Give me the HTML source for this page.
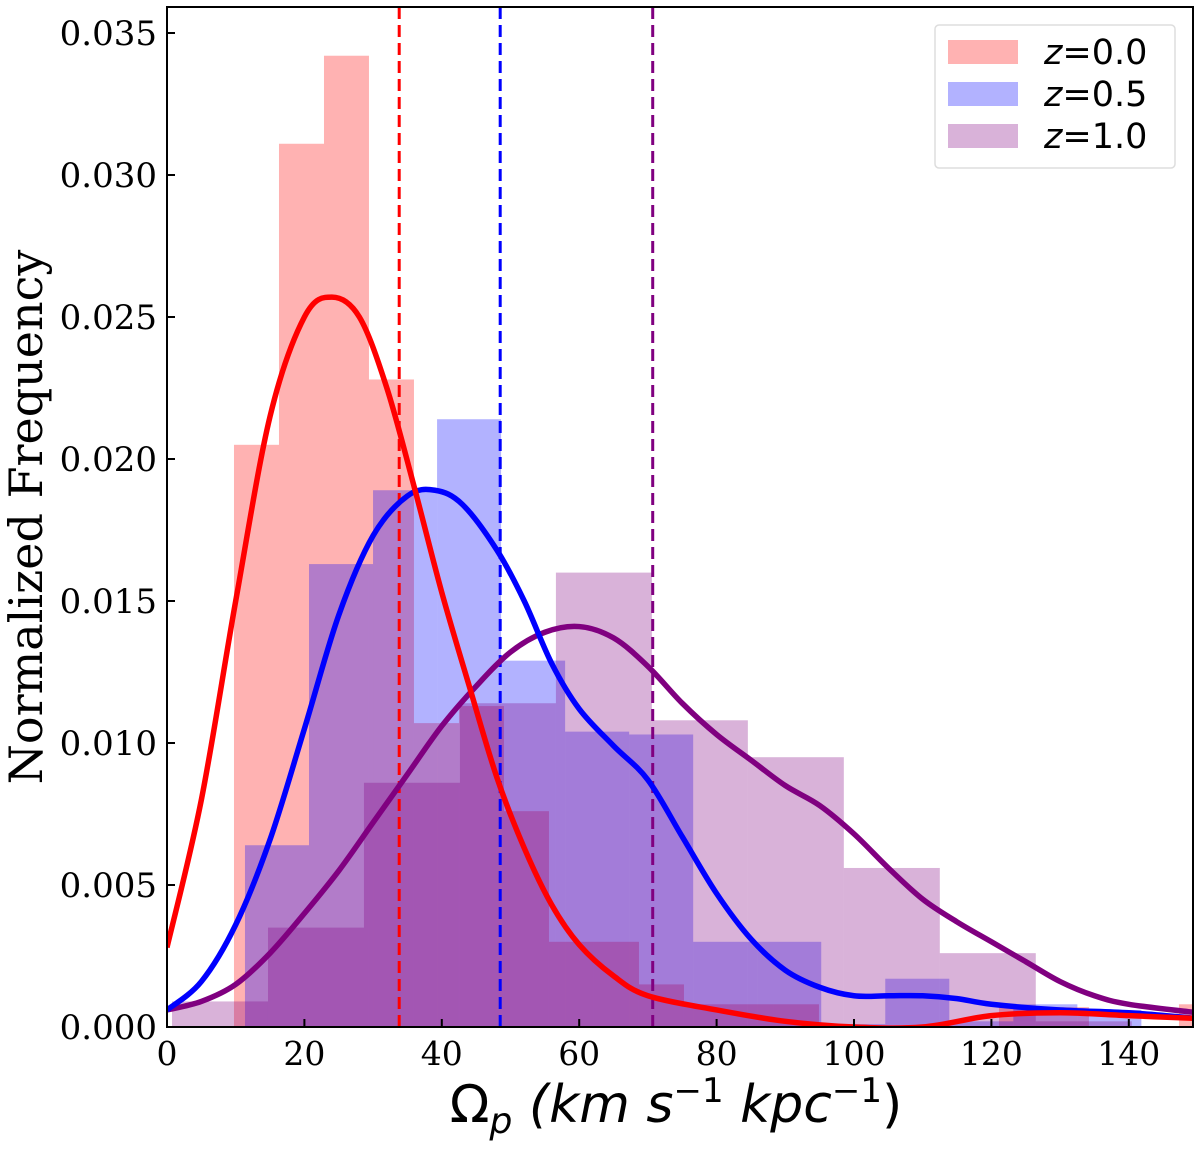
<!DOCTYPE html>
<html><head><meta charset="utf-8"><style>
body{margin:0;background:#fff;}
svg text{font-family:"DejaVu Serif","Liberation Serif",serif;}
</style></head><body>
<svg id="chart" width="1200" height="1150" viewBox="0 0 1200 1150" xmlns="http://www.w3.org/2000/svg">
<g id="bars"></g>
<g id="vlines"></g>
<g id="curves"></g>
<rect x="167" y="7" width="1026" height="1020" fill="none" stroke="#000" stroke-width="2"/>
<g id="axes"></g>
<text transform="translate(42,517) rotate(-90)" text-anchor="middle" font-size="46">Normalized Frequency</text>
<text x="676" y="1122" text-anchor="middle" font-size="52" style="font-family:'DejaVu Sans',sans-serif">Ω<tspan font-style="italic" font-size="36" dy="11">p</tspan><tspan dy="-11" font-style="italic"> (km s</tspan><tspan font-size="34" dy="-20">−1</tspan><tspan dy="20" font-style="italic"> kpc</tspan><tspan font-size="34" dy="-20">−1</tspan><tspan dy="20">)</tspan></text>
<g>
<rect x="935" y="25" width="240" height="143" rx="4" fill="#fff" stroke="#ddd" stroke-width="1.5"/>
<g><rect x="948" y="40" width="70" height="24" fill="#f00" fill-opacity="0.3"/><text x="1044" y="64" font-size="35" style="font-family:'DejaVu Sans',sans-serif"><tspan font-style="italic">z</tspan>=0.0</text></g>
<g><rect x="948" y="82" width="70" height="24" fill="#00f" fill-opacity="0.3"/><text x="1044" y="106" font-size="35" style="font-family:'DejaVu Sans',sans-serif"><tspan font-style="italic">z</tspan>=0.5</text></g>
<g><rect x="948" y="124" width="70" height="24" fill="#800080" fill-opacity="0.3"/><text x="1044" y="148" font-size="35" style="font-family:'DejaVu Sans',sans-serif"><tspan font-style="italic">z</tspan>=1.0</text></g>
</g>
</svg>
<script>
const redStart = 9.75, redWidth = 6.55;
const redHeights = [0.0205,0.0311,0.0342,0.0228,0.0107,0.0113,0.0076,0.0030,0.0030,0.0015,0.0008,0.0008,0.0008,0,0,0,0,0.0007,0.0007,0,0,0.0008];
const blueStart = 11.35, blueWidth = 9.32;
const blueHeights = [0.0064,0.0163,0.0189,0.0214,0.0129,0.0104,0.0103,0.0030,0.0030,0.0001,0.0017,0.0002,0.0008,0.0006];
const purpleStart = 0.73, purpleWidth = 13.97;
const purpleHeights = [0.0009,0.0035,0.0086,0.0114,0.0160,0.0108,0.0095,0.0056,0.0026,0.0002];
const redKdeX = [0,5,10,15,20,24,28,32,36,40,44,48,52,56,60,65,70,80,90,100,110,120,130,140,150];
const redKdeY = [0.0028,0.0080,0.0150,0.0215,0.0250,0.0257,0.0250,0.0225,0.0190,0.0153,0.0120,0.0088,0.0063,0.0043,0.0029,0.0018,0.0011,0.0006,0.0002,0.0000,0.0000,0.0004,0.0005,0.0004,0.0003];
const blueKdeX = [0,5,10,15,20,25,30,35,39,43,48,52,56,60,65,70,75,80,85,90,95,100,105,110,115,120,130,140,150];
const blueKdeY = [0.0006,0.0016,0.0036,0.0066,0.0105,0.0145,0.0173,0.0187,0.0189,0.0184,0.0168,0.0150,0.0128,0.0112,0.0099,0.0087,0.0067,0.0047,0.0031,0.0020,0.0014,0.0011,0.0011,0.0011,0.0010,0.0008,0.0006,0.0005,0.0003];
const purpleKdeX = [0,5,10,15,20,25,30,35,40,45,50,55,60,65,70,75,80,85,90,95,100,105,110,115,120,125,130,135,140,150];
const purpleKdeY = [0.0006,0.0009,0.0015,0.0026,0.0040,0.0055,0.0072,0.0089,0.0106,0.0120,0.0132,0.0139,0.0141,0.0137,0.0127,0.0114,0.0103,0.0094,0.0085,0.0078,0.0068,0.0056,0.0045,0.0037,0.0030,0.0023,0.0016,0.0011,0.0008,0.0005];
const medians = [33.8, 48.5, 70.7];
const xTicks = [0,20,40,60,80,100,120,140];
const yTicks = [0,0.005,0.010,0.015,0.020,0.025,0.030,0.035];
const yTickLabels = ["0.000","0.005","0.010","0.015","0.020","0.025","0.030","0.035"];

const NS = "http://www.w3.org/2000/svg";
const X0 = 167, XR = 1193, Y0 = 1027, YT = 7;
const xs = v => X0 + v * 6.87;
const ys = v => Y0 - v * 28400;
function mk(tag, attrs, parent){ const e = document.createElementNS(NS, tag); for (const k in attrs) e.setAttribute(k, attrs[k]); parent.appendChild(e); return e; }

const barsG = document.getElementById('bars');
function drawHist(start, w, hs, color, name){
  hs.forEach((h, i) => {
    if (h <= 0) return;
    let a = xs(start + i*w), b = xs(start + (i+1)*w);
    b = Math.min(b, XR); if (a >= XR) return;
    const r = mk('rect', {x:a, y:ys(h), width:b-a, height:Y0-ys(h), fill:color, 'fill-opacity':0.3}, barsG);
    
    
  });
}
drawHist(redStart, redWidth, redHeights, '#ff0000', 'z0');
drawHist(blueStart, blueWidth, blueHeights, '#0000ff', 'z05');
drawHist(purpleStart, purpleWidth, purpleHeights, '#800080', 'z1');

const vG = document.getElementById('vlines');
const vcol = ['#ff0000','#0000ff','#800080'];
medians.forEach((m, i) => {
  const l = mk('line', {x1:xs(m), x2:xs(m), y1:YT, y2:Y0, stroke:vcol[i], 'stroke-width':3, 'stroke-dasharray':'12 6'}, vG);
  
  
});

const cG = document.getElementById('curves');
function spline(X, Y){
  const p = X.map((x,i)=>[xs(x), ys(Y[i])]);
  let d = 'M' + p[0][0] + ',' + p[0][1];
  for (let i=0;i<p.length-1;i++){
    const p0 = p[Math.max(0,i-1)], p1 = p[i], p2 = p[i+1], p3 = p[Math.min(p.length-1,i+2)];
    const c1 = [p1[0]+(p2[0]-p0[0])/6, p1[1]+(p2[1]-p0[1])/6];
    const c2 = [p2[0]-(p3[0]-p1[0])/6, p2[1]-(p3[1]-p1[1])/6];
    d += ' C' + c1 + ' ' + c2 + ' ' + p2;
  }
  return d;
}
const cp = mk('clipPath', {id:'clip'}, document.getElementById('chart'));
mk('rect', {x:X0, y:YT, width:XR-X0, height:Y0-YT}, cp);
cG.setAttribute('clip-path', 'url(#clip)');
[[purpleKdeX,purpleKdeY,'#800080','kde-z1'],[blueKdeX,blueKdeY,'#0000ff','kde-z05'],[redKdeX,redKdeY,'#ff0000','kde-z0']].forEach(s => {
  const p = mk('path', {d:spline(s[0], s[1]), fill:'none', stroke:s[2], 'stroke-width':5.5}, cG);
  
  
});

const aG = document.getElementById('axes');
xTicks.forEach(t => {
  mk('line', {x1:xs(t), x2:xs(t), y1:Y0, y2:Y0-8, stroke:'#000', 'stroke-width':2}, aG);
  const tx = mk('text', {x:xs(t), y:Y0+38, 'text-anchor':'middle', 'font-size':33}, aG);
  tx.textContent = t;
  
  
});
yTicks.forEach((t, i) => {
  mk('line', {x1:X0, x2:X0+8, y1:ys(t), y2:ys(t), stroke:'#000', 'stroke-width':2}, aG);
  const tx = mk('text', {x:157, y:ys(t)+12, 'text-anchor':'end', 'font-size':34}, aG);
  tx.textContent = yTickLabels[i];
  
  
});
</script>
</body></html>
